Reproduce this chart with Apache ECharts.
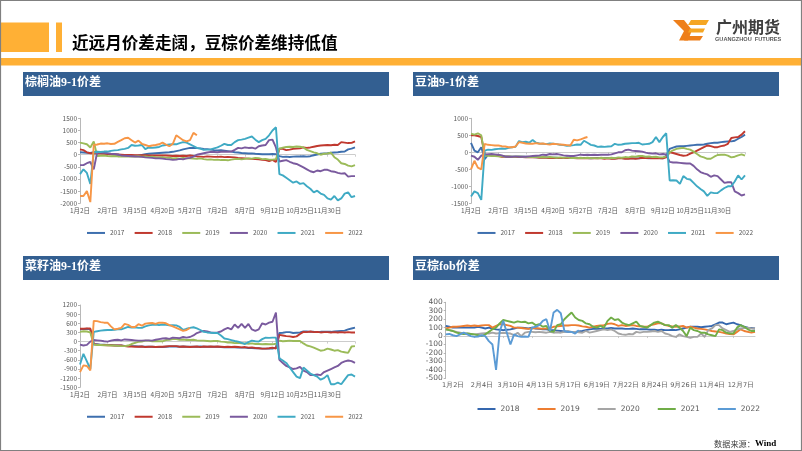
<!DOCTYPE html>
<html><head><meta charset="utf-8">
<style>html,body{margin:0;padding:0;background:#fff}#c{width:802px;height:451px}</style>
<script src="https://cdn.jsdelivr.net/npm/echarts@6/dist/echarts.min.js"></script>
</head><body><div id="c"></div>
<script>
const ticksA=['1月2日','2月7日','3月15日','4月20日','5月27日','7月2日','8月7日','9月12日','10月25日','11月30日'];
const ticksB=['1月2日','2月4日','3月10日','4月13日','5月17日','6月19日','7月22日','8月24日','9月26日','11月4日','12月7日'];
const yearsA=['2017','2018','2019','2020','2021','2022'];
const yearsB=['2018','2019','2020','2021','2022'];
const colorsA=['#3E6FAE','#C0392F','#9BBB59','#7A5A9E','#3FAAC4','#F79646'];
const colorsB=['#3567AE','#ED7D31','#A5A5A5','#70AD47','#5B9BD5'];

// 棕榈油9-1价差
const palm2017=[100,90,80,70,110,120,90,70, 40,30,10,0,-20,-30,-40,-50, -50,-40,-10,20,40,50,60,70, 80,90,100,120,150,180,220,250, 280,285,270,260,240,230,210,190, 180,185,170,150,130,100,90,70, 60,50,55,40,30,20,25,20, 30,20,-60,-90,-80,-95,-80,-70, -70,-60,-80,-60,-20,10,40,50, 60,80,90,100,120,130,220,250, 300];
const palm2018=[220,190,100,60,60,50,50,40, 30,20,20,10,0,-10,-10,-10, -20,-20,-20,-20,-30,-30,-30,-30, -30,-30,-40,-50,-40,-50,-40,-50, -30,-50,-70,-80,-90,-70,-80,-90, -90,-80,-100,-90,-100,-110,-130,-140, -150,-160,-170,-180,-190,-210,-220,-260, -210,-300,250,240,190,210,240,250, 260,300,280,300,330,360,380,390, 400,390,410,400,520,500,480,490, 550];
const palm2019=[500,470,430,300,550,-50,-40,-30, -50,-60,-50,-70,-60,-70,-60,-80, -70,-60,-80,-70,-90,-80,-100,-110, -100,-130,-120,-150,-140,-160,-130,-150, -150,-160,-170,-150,-180,-200,-190,-210, -200,-220,-210,-230,-200,-180,-170,-190, -170,-150,-160,-130,-140,-180,-170,-200, -200,-180,250,290,320,330,320,340, 330,300,200,150,100,60,0,40, 50,80,-100,-200,-350,-380,-450,-480, -430];
const palm2020=[-430,-430,-350,-300,-600,100,90,80, 60,40,30,10,-30,-40,-50,-60, -70,-80,-90,-110,-120,-130,-150,-150, -160,-180,-190,-210,-200,-170,-190,-150, -130,-80,0,30,60,90,120,110, 100,120,130,120,130,200,280,260, 300,280,290,250,350,380,400,600, 620,300,-280,-250,-220,-290,-350,-380, -450,-520,-600,-680,-720,-650,-680,-620, -620,-680,-700,-750,-780,-760,-900,-880, -880];
const palm2021=[-800,-600,-750,-1200,100,120,110,130, 130,160,180,190,220,240,280,400, 370,380,400,230,300,280,300,320, 380,400,420,430,430,480,520,500, 430,360,280,250,200,210,220,260, 300,370,450,400,400,520,600,620, 650,700,750,620,520,600,650,800, 1000,1130,-800,-850,-950,-1050,-1150,-1100, -1200,-1170,-1300,-1400,-1550,-1480,-1600,-1650, -1800,-1850,-1700,-1880,-1800,-1600,-1550,-1750, -1700];
const palm2022=[-1700,-1700,-1500,-1950,400,420,460,450, 470,440,450,530,600,680,700,600, 500,580,450,400,350,380,400,430, 500,420,350,450,800,700,600,550, 600,900,800];

// 豆油9-1价差
const soy2017=[280,50,0,150,-200,-70,-70,-80, -90,-110,-120,-130,-130,-130,-130,-130, -130,-140,-140,-150,-150,-150,-150,-160, -160,-160,-170,-170,-160,-170,-170,-170, -170,-170,-170,-180,-170,-170,-170,-170, -170,-180,-180,-170,-170,-180,-180,-180, -180,-180,-170,-170,-180,-170,-170,-170, -180,-100,100,140,170,180,180,190, 200,210,220,220,230,250,270,280, 280,300,310,320,320,340,400,450, 520];
const soy2018=[500,500,480,450,-60,-70,-80,-100, -110,-130,-130,-130,-140,-140,-140,-140, -150,-150,-150,-150,-160,-160,-160,-170, -170,-170,-170,-170,-170,-170,-170,-180, -180,-170,-180,-180,-180,-180,-180,-190, -180,-190,-190,-180,-180,-190,-190,-180, -190,-180,-160,-170,-170,-180,-170,-180, -180,-150,0,-20,-50,-80,-100,-90, -40,0,50,100,150,200,180,150, 150,180,200,250,420,440,450,520, 620];
const soy2019=[550,520,560,500,-100,-100,-110,-110, -120,-110,-130,-120,-130,-130,-120,-130, -140,-130,-140,-130,-150,-140,-150,-140, -150,-160,-150,-160,-150,-170,-160,-170, -160,-170,-160,-170,-170,-180,-160,-170, -170,-160,-170,-150,-160,-140,-150,-120, -130,-110,-110,-130,-120,-140,-130,-150, -150,-120,0,60,100,120,130,100, 80,20,-50,-120,-150,-190,-190,-130, -80,-70,-70,-100,-150,-130,-90,-60, -100];
const soy2020=[-100,-130,-220,-100,-60,-60,-50,-60, -70,-90,-130,-130,-130,-120,-130,-130, -130,-120,-110,-100,-90,-70,-80,-50, -60,-50,-70,-90,-100,-110,-110,-90, -70,-80,-70,-80,-70,-80,-70,-70, -70,-60,-30,0,0,60,80,50, 40,30,20,-10,-30,-40,-30,-60, -50,-60,-280,-300,-300,-310,-320,-330, -330,-400,-500,-580,-620,-650,-720,-680, -700,-800,-900,-880,-880,-1150,-1200,-1270, -1240];
const soy2021=[-1300,-1150,-1200,-1400,50,80,70,90, 100,110,100,130,150,160,330,300, 310,280,360,280,260,250,240,260, 250,240,220,210,190,200,210,230, 220,340,280,220,200,160,170,160, 170,180,250,220,230,250,260,270, 270,280,230,240,250,300,450,300, 450,560,-830,-820,-830,-930,-700,-780, -800,-900,-1000,-1080,-1150,-1280,-1180,-1200, -1200,-1120,-1050,-1000,-1000,-860,-680,-800, -680];
const soy2022=[-500,-250,-450,-500,250,220,210,200, 200,180,170,150,150,170,300,280, 260,250,250,270,250,260,240,230, 250,240,230,220,210,200,370,350, 380,420,450];

// 菜籽油9-1价差
const rape2017=[400,410,420,400,-80,-90,-100,-100, -110,-110,-120,-130,-130,-140,-140,-150, -150,-160,-160,-170,-170,-170,-180,-180, -180,-170,-160,-160,-160,-170,-160,-170, -170,-170,-170,-160,-170,-170,-170,-170, -170,-180,-190,-180,-190,-190,-200,-200, -200,-210,-210,-220,-220,-230,-230,-230, -230,-200,280,290,310,310,280,290, 300,330,330,320,320,310,320,320, 320,320,330,340,350,360,400,430, 460];
const rape2018=[420,420,430,430,-90,-100,-110,-110, -120,-120,-130,-130,-130,-150,-160,-160, -170,-170,-160,-180,-170,-170,-180,-170, -170,-160,-150,-150,-150,-170,-160,-170, -180,-170,-160,-180,-160,-170,-160,-170, -160,-170,-180,-170,-180,-170,-180,-190, -180,-200,-190,-210,-220,-230,-230,-220, -200,-230,220,200,180,170,150,170, 250,320,310,330,310,320,300,310, 310,300,310,300,310,300,310,300, 300];
const rape2019=[320,340,330,300,-100,-110,-110,-120, -120,-130,-130,-140,-150,-150,-130,-80, -40,-10,0,30,30,10,20,10, 10,50,60,80,80,60,70,50, 50,60,40,30,30,20,10,20, 20,0,-10,-30,-30,-50,-40,-60, -60,-70,-60,-80,-80,-90,-80,-90, -90,-70,30,10,20,30,20,20, 20,-60,-130,-160,-200,-250,-300,-280, -230,-260,-300,-280,-330,-350,-370,-160, -150];
const rape2020=[-100,-130,-110,0,50,40,30,10, 0,30,50,60,40,70,60,50, 40,30,30,40,40,30,60,80, 100,110,90,130,120,110,150,130, 150,200,280,320,350,330,300,290, 300,330,400,450,400,560,450,580, 450,580,400,350,400,600,560,620, 650,950,-600,-700,-800,-850,-900,-880, -830,-950,-1000,-1100,-1100,-1080,-1100,-1000, -950,-900,-850,-800,-700,-650,-620,-640, -700];
const rape2021=[-750,-400,-650,-900,320,340,360,370, 380,380,390,400,400,440,480,460, 470,450,450,500,530,550,560,540, 560,550,530,540,530,480,380,420, 450,470,430,380,320,300,290,280, 280,200,100,80,50,20,0,-40, -80,-20,30,10,0,80,130,120, 130,130,-550,-620,-700,-850,-1000,-1150, -1200,-850,-950,-1050,-1100,-1150,-1250,-1200, -1100,-1400,-1400,-1350,-1400,-1250,-1100,-1080, -1150];
const rape2022=[-1000,-780,-800,-950,680,670,640,620, 620,500,400,420,450,580,550,480, 480,570,520,590,600,610,580,620, 620,600,540,500,450,400,350,380, 450];

// 豆棕fob价差
const fob2018=[120,110,100,100,100,100,100,100, 100,110,100,90,100,90,80,75, 70,75,80,90,100,100,95,90, 100,90,85,80,80,70,70,65, 60,55,50,50,50,55,60,70, 80,85,90,85,90,90,95,90, 90,90,85,85,90,85,80,80, 80,75,75,70,75,70,70,75, 70,80,90,100,110,110,110,105, 110,115,120,140,160,160,140,150, 160,140,130,110,100,95,90];
const fob2019=[90,100,110,110,115,120,125,120, 125,120,125,130,130,100,120,140, 140,130,120,100,100,95,90,85, 90,95,90,85,90,95,110,115, 120,125,125,130,130,125,115,110, 100,110,120,125,130,145,150,140, 120,130,120,125,130,120,115,110, 110,130,140,150,150,130,120,115, 110,115,120,100,110,100,90,85, 80,70,60,55,50,40,30,25, 20,50,80,60,50,40,50];
const fob2020=[80,70,60,50,40,30,30,25, 20,25,30,35,30,40,30,35, 40,35,30,10,40,0,40,50, 50,45,50,45,40,50,40,45, 40,50,60,50,50,45,40,60, 40,50,60,70,80,70,80,60, 30,20,15,25,20,50,40,50, 50,55,60,50,60,30,20,0, -10,20,0,-10,-20,-10,-10,30, -10,70,90,130,130,90,70,50, 60,80,90,95,100,90,90];
const fob2021=[80,70,60,40,30,25,30,25, 20,10,0,20,50,80,100,150, 190,180,170,160,175,165,170,150, 160,130,140,110,120,60,50,130, 140,200,240,280,220,190,180,150, 140,110,100,120,100,180,220,190, 200,160,140,130,150,170,120,110, 100,130,160,170,150,130,130,100, 130,100,60,0,100,70,60,40, 40,20,10,0,80,70,40,30, 30,100,130,110,80,60,60];
const fob2022=[20,25,10,0,20,40,20,0, -10,-5,10,0,-60,-100,-400,50, 180,40,-100,20,0,-10,-5,-10, 100,110,130,180,200,60,280,310, 270,60,50,50,30,70];

const seriesA=[[palm2017,palm2018,palm2019,palm2020,palm2021,palm2022],[soy2017,soy2018,soy2019,soy2020,soy2021,soy2022],[rape2017,rape2018,rape2019,rape2020,rape2021,rape2022]];

// 8 data points per labelled tick
function cats(ticks,total){const a=[];for(let i=0;i<total;i++)a.push(i%8===0&&ticks[i/8]?ticks[i/8]:'');return a;}

const panels=[
 {left:80,right:355,top:118.3,bottom:203.3,min:-2000,max:1500,step:500,ticks:ticksA,n:81,names:yearsA,colors:colorsA,data:seriesA[0],font:'"Noto Sans CJK SC"',fs:6.5,xfs:6.5,lw:1.9,lblM:4,legendX:87,legendY:232.7,gap:10.2,iw:18,pad:0},
 {left:471,right:745,top:118.3,bottom:203.3,min:-1500,max:1000,step:500,ticks:ticksA,n:81,names:yearsA,colors:colorsA,data:seriesA[1],font:'"Noto Sans CJK SC"',fs:6.5,xfs:6.5,lw:1.9,lblM:4,legendX:477.5,legendY:232.7,gap:10.2,iw:18,pad:0},
 {left:80,right:355,top:305,bottom:387.3,min:-1500,max:1200,step:300,ticks:ticksA,n:81,names:yearsA,colors:colorsA,data:seriesA[2],font:'"Noto Sans CJK SC"',fs:6.5,xfs:6.5,lw:1.9,lblM:4,legendX:87,legendY:416.5,gap:10.2,iw:18,pad:0},
 {left:445.7,right:755,top:302.3,bottom:378.3,min:-500,max:400,step:100,ticks:ticksB,n:87,names:yearsB,colors:colorsB,data:[fob2018,fob2019,fob2020,fob2021,fob2022],font:'"DejaVu Sans"',fs:7.5,xfs:6.5,lw:1.9,lblM:4,legendX:477.5,legendY:408,gap:18,iw:18,pad:15}
];

const grid=[],xAxis=[],yAxis=[],series=[],legend=[];
panels.forEach((p,i)=>{
 const c=cats(p.ticks,p.n);
 grid.push({left:p.left,width:p.right-p.left,top:p.top,height:p.bottom-p.top,containLabel:false});
 xAxis.push({type:'category',gridIndex:i,data:c,boundaryGap:false,position:'bottom',
  axisLine:{show:true,onZero:true,lineStyle:{color:'#BFBFBF',width:.8}},
  axisTick:{show:true,interval:7,length:2,inside:false,lineStyle:{color:'#BFBFBF',width:.8}},
  axisLabel:{show:false},splitLine:{show:false}});
 xAxis.push({type:'category',gridIndex:i,data:c,boundaryGap:false,position:'bottom',
  axisLine:{show:false,onZero:false},axisTick:{show:false},
  axisLabel:{show:true,interval:7,showMinLabel:true,showMaxLabel:true,margin:p.lblM,fontSize:p.xfs,color:'#595959',fontFamily:p.font,padding:[0,0,0,p.pad],hideOverlap:false},splitLine:{show:false}});
 yAxis.push({type:'value',gridIndex:i,min:p.min,max:p.max,interval:p.step,
  axisLine:{show:true,lineStyle:{color:'#A6A6A6',width:.8}},
  axisTick:{show:true,length:2,lineStyle:{color:'#A6A6A6',width:.8}},
  axisLabel:{margin:3,fontSize:p.fs,color:'#595959',fontFamily:p.font,formatter:v=>String(v)},splitLine:{show:false}});
 p.names.forEach((nm,k)=>{series.push({type:'line',name:nm,xAxisIndex:i*2,yAxisIndex:i,data:p.data[k],
  showSymbol:false,symbol:'none',smooth:false,lineStyle:{color:p.colors[k],width:p.lw},itemStyle:{color:p.colors[k]},silent:true});});
 legend.push({show:true,left:p.legendX,top:p.legendY-3,orient:'horizontal',icon:'rect',itemWidth:p.iw,itemHeight:2,itemGap:p.gap,padding:0,selectedMode:false,
  textStyle:{fontSize:p.fs,color:'#595959',fontFamily:p.font},
  data:p.names.map((nm,k)=>({name:nm,itemStyle:{color:p.colors[k]},lineStyle:{color:p.colors[k]}}))});
});

const ORANGE='#FFB035',BLUE='#335F91';
const bars=[[23,72,'棕榈油9-1价差'],[413,72,'豆油9-1价差'],[23,256,'菜籽油9-1价差'],[413,256,'豆棕fob价差']];
const graphic=[
 {type:'rect',shape:{x:0,y:22.5,width:49,height:29.5},style:{fill:ORANGE},silent:true},
 {type:'rect',shape:{x:56,y:22.5,width:6,height:29.5},style:{fill:ORANGE},silent:true},
 {type:'rect',shape:{x:0,y:58,width:802,height:7.5},style:{fill:ORANGE},silent:true},
 {type:'text',x:72,y:43,style:{text:'近远月价差走阔，豆棕价差维持低值',fill:'#000',font:'bold 16.6px "Noto Sans CJK SC"',verticalAlign:'middle'},silent:true},
 {type:'polygon',shape:{points:[[673,20],[684,20],[692,30],[688,40.5],[679,40.5],[684,31]]},style:{fill:'#EE7F1A'},silent:true},
 {type:'polygon',shape:{points:[[691,20],[709,20],[706,25],[688,25]]},style:{fill:'#F5A623'},silent:true},
 {type:'polygon',shape:{points:[[690,28.5],[705,28.5],[703,32.5],[688,32.5]]},style:{fill:'#F5A623'},silent:true},
 {type:'polygon',shape:{points:[[687,36],[703,36],[700,40.5],[684,40.5]]},style:{fill:'#EE7F1A'},silent:true},
 {type:'text',x:716,y:27,style:{text:'广州期货',fill:'#3F3F3F',font:'bold 16px "Noto Sans CJK SC"',verticalAlign:'middle'},silent:true},
 {type:'text',x:715,y:39,style:{text:'GUANGZHOU  FUTURES',fill:'#595959',font:'bold 5.6px "Liberation Sans"',verticalAlign:'middle'},silent:true},
 {type:'text',x:714,y:444,style:{text:'数据来源：',fill:'#404040',font:'8.2px "Noto Sans CJK SC"',verticalAlign:'middle'},silent:true},
 {type:'text',x:755,y:444,style:{text:'Wind',fill:'#000',font:'bold 9px "Liberation Serif"',verticalAlign:'middle'},silent:true},
 {type:'rect',shape:{x:.5,y:.5,width:801,height:450},style:{fill:'none',stroke:'#808080',lineWidth:1.2},silent:true}
];
bars.forEach(b=>{
 graphic.push({type:'rect',shape:{x:b[0],y:b[1],width:366,height:24},style:{fill:BLUE},silent:true});
 graphic.push({type:'text',x:b[0]+2,y:b[1]+10.5,style:{text:b[2],fill:'#fff',font:'bold 12px "Liberation Serif","Noto Sans CJK SC"',verticalAlign:'middle'},silent:true});
});

const chart=echarts.init(document.getElementById('c'),null,{renderer:'canvas',width:802,height:451});
chart.setOption({animation:false,backgroundColor:'#fff',tooltip:{show:false},grid,xAxis,yAxis,legend,series,graphic});
</script></body></html>
